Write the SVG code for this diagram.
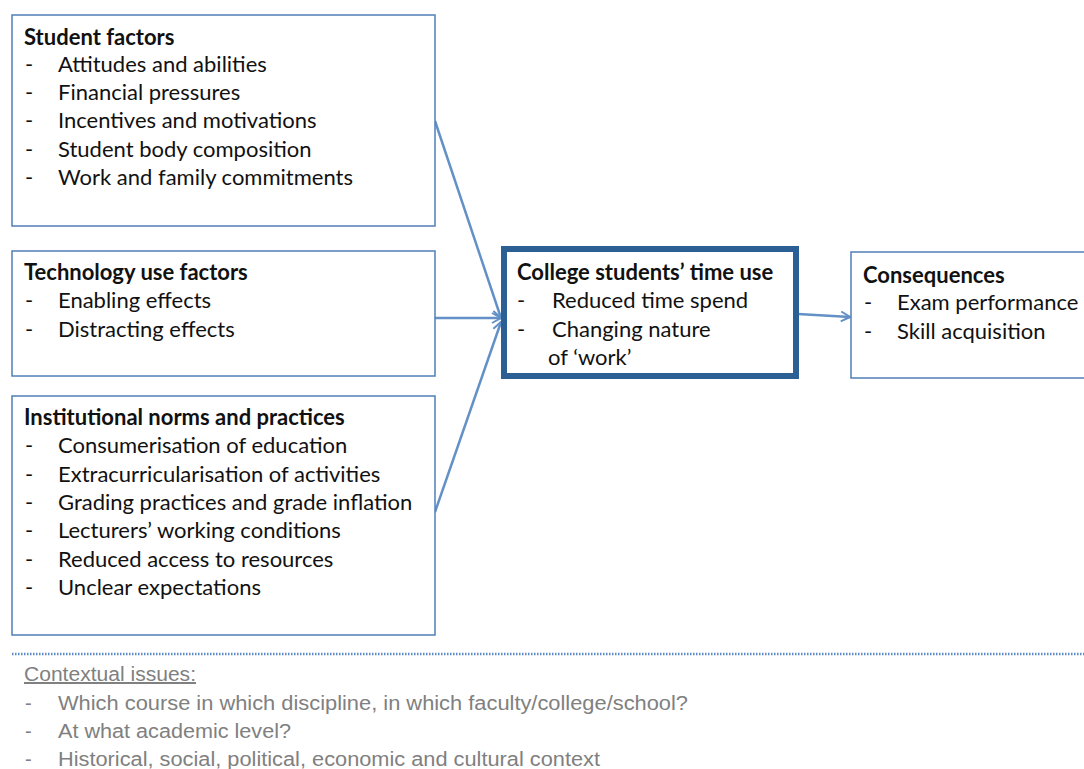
<svg xmlns="http://www.w3.org/2000/svg" width="1084" height="769" viewBox="0 0 1084 769">
<style>
.box{fill:#fff;stroke:#4f7fb8;stroke-width:1.5}
.main{fill:#fff;stroke:#2c5f94;stroke-width:6}
.t{font-family:Lato,"Open Sans",sans-serif;font-size:22px;fill:#111}
.b{font-weight:bold}
.c{font-family:"Liberation Sans",sans-serif;font-size:20px;fill:#808080}
.con{stroke:#6390c6;stroke-width:2.5;fill:none}
</style>
<defs>
<marker id="ah" markerWidth="12" markerHeight="12" refX="10" refY="6" orient="auto" markerUnits="userSpaceOnUse">
<path d="M1,1 L10,6 L1,11" fill="none" stroke="#6390c6" stroke-width="2"/>
</marker>
</defs>
<rect width="1084" height="769" fill="#fff"/>
<g id="connectors">
<line class="con" x1="435" y1="121" x2="501" y2="318" marker-end="url(#ah)"/>
<line class="con" x1="435" y1="318" x2="501" y2="318" marker-end="url(#ah)"/>
<line class="con" x1="435" y1="512" x2="501" y2="322" marker-end="url(#ah)"/>
<line class="con" x1="798" y1="314" x2="850" y2="317" marker-end="url(#ah)"/>
</g>
<g id="student-factors">
<rect class="box" x="12" y="15" width="423" height="211"/>
<text class="t b" x="24" y="45">Student factors</text>
<g class="t"><text x="25" y="72">-</text><text x="58" y="72">Attitudes and abilities</text>
<text x="25" y="100">-</text><text x="58" y="100">Financial pressures</text>
<text x="25" y="128">-</text><text x="58" y="128">Incentives and motivations</text>
<text x="25" y="157">-</text><text x="58" y="157">Student body composition</text>
<text x="25" y="185">-</text><text x="58" y="185">Work and family commitments</text></g>
</g>
<g id="technology-factors">
<rect class="box" x="12" y="251" width="423" height="125"/>
<text class="t b" x="24" y="280">Technology use factors</text>
<g class="t"><text x="25" y="308">-</text><text x="58" y="308">Enabling effects</text>
<text x="25" y="337">-</text><text x="58" y="337">Distracting effects</text></g>
</g>
<g id="institutional">
<rect class="box" x="12" y="396" width="423" height="239"/>
<text class="t b" x="24" y="425">Institutional norms and practices</text>
<g class="t"><text x="25" y="453">-</text><text x="58" y="453">Consumerisation of education</text>
<text x="25" y="482">-</text><text x="58" y="482">Extracurricularisation of activities</text>
<text x="25" y="510">-</text><text x="58" y="510">Grading practices and grade inflation</text>
<text x="25" y="538">-</text><text x="58" y="538">Lecturers’ working conditions</text>
<text x="25" y="567">-</text><text x="58" y="567">Reduced access to resources</text>
<text x="25" y="595">-</text><text x="58" y="595">Unclear expectations</text></g>
</g>
<g id="time-use">
<rect class="main" x="504" y="249" width="292" height="127"/>
<text class="t b" x="517" y="280">College students’ time use</text>
<g class="t"><text x="517" y="308">-</text><text x="552" y="308">Reduced time spend</text>
<text x="517" y="337">-</text><text x="552" y="337">Changing nature</text>
<text x="548" y="365">of ‘work’</text></g>
</g>
<g id="consequences">
<rect class="box" x="851" y="252" width="240" height="126"/>
<text class="t b" x="863" y="283">Consequences</text>
<g class="t"><text x="864" y="310">-</text><text x="897" y="310">Exam performance</text>
<text x="864" y="339">-</text><text x="897" y="339">Skill acquisition</text></g>
</g>
<line x1="12" y1="654" x2="1084" y2="654" stroke="#5b8ac8" stroke-width="2.5" stroke-dasharray="1.5,1.5"/>
<g id="context">
<text class="c" x="24" y="681" text-decoration="underline" textLength="172" lengthAdjust="spacingAndGlyphs">Contextual issues:</text>
<text class="c" x="25" y="710">-</text><text class="c" x="58" y="710" textLength="630" lengthAdjust="spacingAndGlyphs">Which course in which discipline, in which faculty/college/school?</text>
<text class="c" x="25" y="738">-</text><text class="c" x="58" y="738" textLength="233" lengthAdjust="spacingAndGlyphs">At what academic level?</text>
<text class="c" x="25" y="766">-</text><text class="c" x="58" y="766" textLength="542" lengthAdjust="spacingAndGlyphs">Historical, social, political, economic and cultural context</text>
</g>
</svg>
